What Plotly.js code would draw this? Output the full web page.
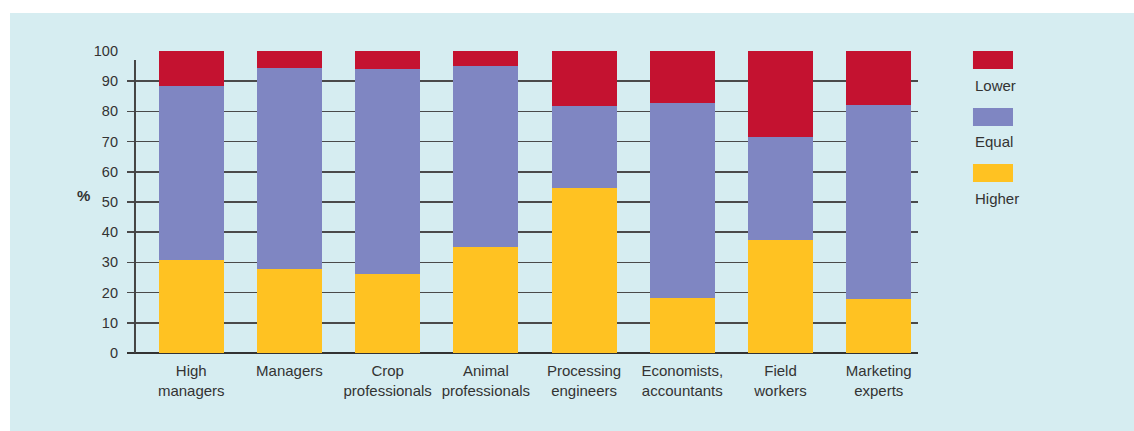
<!DOCTYPE html>
<html>
<head>
<meta charset="utf-8">
<script src="https://cdn.plot.ly/plotly-3.0.1.min.js"></script>
<style>
  html, body { margin: 0; padding: 0; background: #ffffff; }
  #chart { position: absolute; left: 10px; top: 13px; width: 1124px; height: 418px; }
</style>
</head>
<body>
<div id="chart"></div>
<script>
const categories = [
  "High<br>managers", "Managers", "Crop<br>professionals", "Animal<br>professionals",
  "Processing<br>engineers", "Economists,<br>accountants", "Field<br>workers", "Marketing<br>experts"
];
const higher = [30.9, 27.9, 26.2, 35.2, 54.8, 18.2, 37.5, 17.9];
const equal  = [57.5, 66.5, 67.8, 59.8, 26.9, 64.5, 33.9, 64.2];
const lower  = [11.6, 5.6, 6.0, 5.0, 18.3, 17.3, 28.6, 17.9];
const yTicks = [0, 10, 20, 30, 40, 50, 60, 70, 80, 90, 100];

const seriesNames = ["Higher", "Equal", "Lower"];
const seriesColors = ["#FFC222", "#7F86C2", "#C41230"];
const seriesValues = [higher, equal, lower];

const xIdx = categories.map((_, i) => i);
const traces = seriesValues.map((vals, k) => ({
  type: "bar",
  x: xIdx,
  y: vals,
  name: seriesNames[k],
  width: 0.662,
  marker: { color: seriesColors[k], line: { width: 0 } },
  hoverinfo: "skip",
  showlegend: false
}));

const txt = "#333333";
const fontFam = "Liberation Sans, Arial, Helvetica, sans-serif";

const legendOrder = [2, 1, 0];
const boxTops = [1.0, 0.8113, 0.6258];
const labelY = [0.8874, 0.6987, 0.5132];
const shapes = [];
const annotations = [];
legendOrder.forEach((k, j) => {
  shapes.push({
    type: "rect", xref: "paper", yref: "paper",
    x0: 1.0695, x1: 1.1201, y0: boxTops[j] - 0.0596, y1: boxTops[j],
    fillcolor: seriesColors[k], line: { width: 0 }, layer: "above"
  });
  annotations.push({
    xref: "paper", yref: "paper", x: 1.0695, y: labelY[j],
    xanchor: "left", yanchor: "middle", showarrow: false,
    text: seriesNames[k], font: { family: fontFam, size: 15, color: txt }
  });
});
shapes.push({
  type: "line", xref: "paper", yref: "y",
  x0: 0.0101, x1: 0.0101, y0: 0, y1: 97,
  line: { color: "#444444", width: 2 }, layer: "above"
});
annotations.push({
  xref: "paper", yref: "paper", x: -0.055, y: 0.52,
  xanchor: "center", yanchor: "middle", showarrow: false,
  text: "<b>%</b>", font: { family: fontFam, size: 15, color: txt }
});

const layout = {
  width: 1124, height: 418,
  margin: { l: 117, r: 216, t: 38, b: 78, pad: 0 },
  paper_bgcolor: "#D6EDF1",
  plot_bgcolor: "#D6EDF1",
  barmode: "stack",
  bargap: 0,
  showlegend: false,
  font: { family: fontFam, size: 15, color: txt },
  xaxis: {
    range: [-0.654, 7.40],
    tickmode: "array",
    tickvals: xIdx,
    ticktext: categories,
    ticks: "",
    ticklabelstandoff: 7,
    showgrid: false,
    showline: false,
    zeroline: false,
    tickfont: { family: fontFam, size: 15, color: txt },
    fixedrange: true
  },
  yaxis: {
    range: [0, 100],
    tickmode: "array",
    tickvals: yTicks,
    ticktext: yTicks.map(String),
    ticks: "",
    ticklabelstandoff: 8,
    showgrid: true,
    gridcolor: "#4a4a4a",
    gridwidth: 1.6,
    zeroline: true,
    zerolinecolor: "#333333",
    zerolinewidth: 2,
    showline: false,
    tickfont: { family: fontFam, size: 14.5, color: txt },
    fixedrange: true
  },
  shapes: shapes,
  annotations: annotations
};

Plotly.newPlot("chart", traces, layout, { displayModeBar: false, staticPlot: true });
</script>
</body>
</html>
